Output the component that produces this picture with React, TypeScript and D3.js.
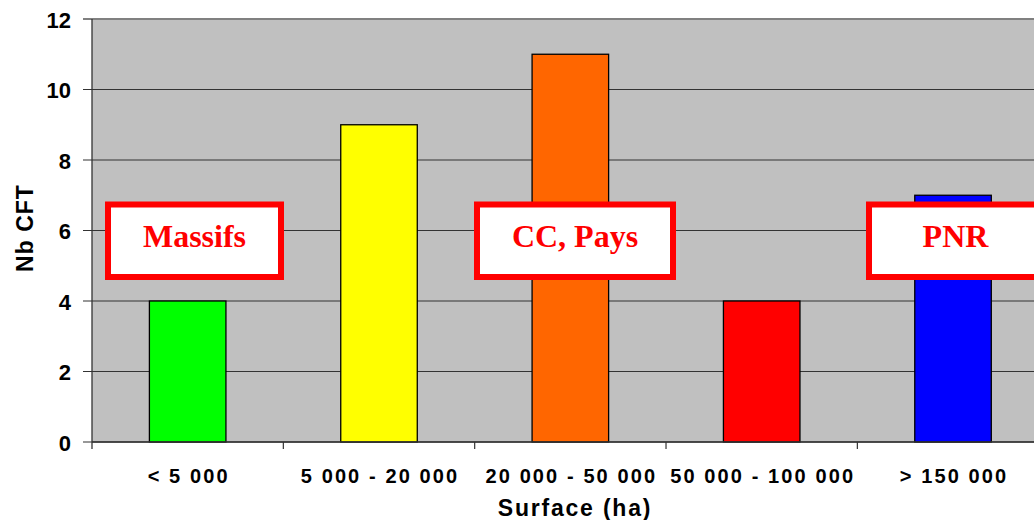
import React from "react";
import * as d3 from "d3";

const categories = ["< 5 000", "5 000 - 20 000", "20 000 - 50 000", "50 000 - 100 000", "> 150 000"];
const values = [4, 9, 11, 4, 7];
const barColors = ["#00FF00", "#FFFF00", "#FF6600", "#FF0000", "#0000FF"];
const yTicks = [0, 2, 4, 6, 8, 10, 12];
const annotations = [
  { label: "Massifs", x: 105, w: 179 },
  { label: "CC, Pays", x: 474, w: 202 },
  { label: "PNR", x: 866, w: 179 },
];

export default function App() {
  const W = 1034, H = 520;
  const left = 92, right = 1048.7, top = 19, bottom = 442;
  const x = d3.scaleBand<string>().domain(categories).range([left, right]).paddingInner(0).paddingOuter(0);
  const y = d3.scaleLinear().domain([0, 12]).range([bottom, top]);
  const bw = x.bandwidth();
  const barW = bw * 0.4;
  const font = "Arial, 'Liberation Sans', sans-serif";
  return (
    <svg width={W} height={H} style={{ position: "absolute", left: 0, top: 0, background: "#fff" }}>
      <rect x={left} y={top} width={right - left} height={bottom - top} fill="#C0C0C0" />
      {yTicks.map((t) => (
        <line key={t} x1={left - 9} x2={right} y1={y(t)} y2={y(t)} stroke={t === 12 ? "#808080" : "#333"} strokeWidth={t === 12 ? 2 : 1.2} />
      ))}
      {categories.map((c, i) => (
        <rect key={c} x={x(c)! + (bw - barW) / 2} y={y(values[i])} width={barW} height={bottom - y(values[i])} fill={barColors[i]} stroke="#000" strokeWidth={1.3} />
      ))}
      <line x1={left} x2={left} y1={top} y2={bottom + 7} stroke="#333" strokeWidth={1.3} />
      <line x1={left} x2={right} y1={bottom} y2={bottom} stroke="#333" strokeWidth={1.5} />
      {categories.map((c) => (
        <line key={c} x1={x(c)! + bw} x2={x(c)! + bw} y1={bottom} y2={bottom + 7} stroke="#333" strokeWidth={1.2} />
      ))}
      {yTicks.map((t) => (
        <text key={t} x={71} y={y(t) + 8.5} textAnchor="end" fontFamily={font} fontWeight="bold" fontSize={22} fill="#000">{t}</text>
      ))}
      {categories.map((c) => (
        <text key={c} x={x(c)! + bw / 2 + 1} y={483} textAnchor="middle" fontFamily={font} fontWeight="bold" fontSize={20} letterSpacing={2.1} fill="#000">{c}</text>
      ))}
      <text x={575} y={516} textAnchor="middle" fontFamily={font} fontWeight="bold" fontSize={23} letterSpacing={1.8} fill="#000">Surface (ha)</text>
      <text transform={`translate(33,228) rotate(-90)`} textAnchor="middle" fontFamily={font} fontWeight="bold" fontSize={23} letterSpacing={1} fill="#000">Nb CFT</text>
      {annotations.map((a) => (
        <g key={a.label}>
          <rect x={a.x + 3} y={204.5} width={a.w - 6} height={72.5} fill="#fff" stroke="#FF0000" strokeWidth={6} />
          <text x={a.x + a.w / 2} y={247} textAnchor="middle" fontFamily="'Liberation Serif', 'Times New Roman', serif" fontWeight="bold" fontSize={32} fill="#FF0000">{a.label}</text>
        </g>
      ))}
    </svg>
  );
}
